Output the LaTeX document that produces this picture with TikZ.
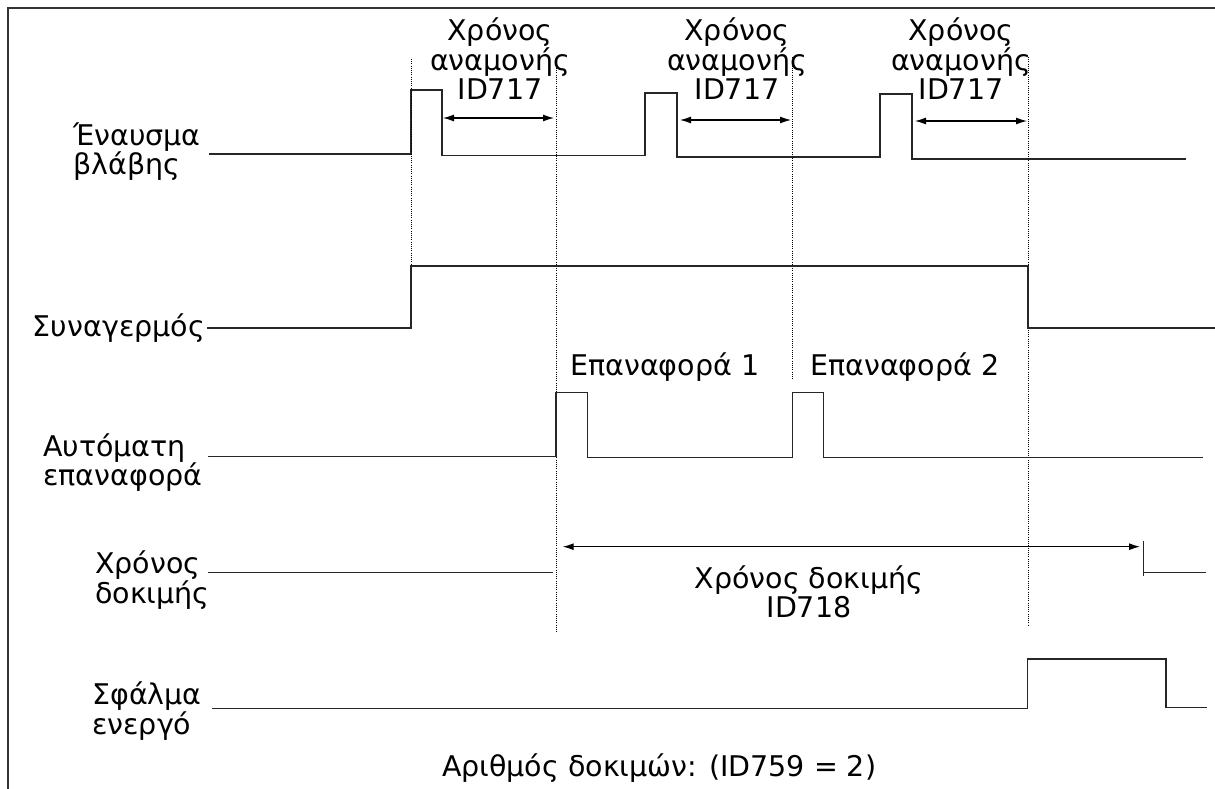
\documentclass[tikz,border=0pt]{standalone}
\usepackage{fontspec}
\setmainfont{DejaVu Sans}
\usetikzlibrary{arrows.meta}

\begin{document}
\begin{tikzpicture}[x=1pt, y=-1pt, >={Latex[length=11pt,width=7pt]},
  font=\fontsize{28.5}{29.5}\selectfont,
  sig/.style={line width=1.4pt, black!85},
  guide/.style={line width=0.9pt, dash pattern=on 1pt off 1.2pt},
  dim/.style={<->, line width=1.2pt},
  lbl/.style={inner sep=0pt, align=left},
  clbl/.style={inner sep=0pt, align=center}]

\useasboundingbox (0,0) rectangle (1215,789);

% frame: only the left and top edges are drawn
\draw[line width=1.6pt, black!80] (8,789) -- (8,8) -- (1215,8);

% =================================================================================
% ROW 1: fault trigger, three short pulses
% (multi-line labels: base anchor sits on the last line)
% =================================================================================
\node[lbl, anchor=base west] (trig) at (73,175) {Έναυσμα\\βλάβης};
\draw[sig] (209,154) -- (411,154) -- (411,90) -- (442,90) -- (442,155.5)
  -- (645,155.5) -- (645,93) -- (677,93) -- (677,157)
  -- (880,157) -- (880,94) -- (912,94) -- (912,159) -- (1186,159);

% wait time after each trigger
\node[clbl, anchor=base] (wt1) at (500,100) {Χρόνος\\αναμονής\\ID717};
\node[clbl, anchor=base] (wt2) at (737,100) {Χρόνος\\αναμονής\\ID717};
\node[clbl, anchor=base] (wt3) at (961,100) {Χρόνος\\αναμονής\\ID717};

\coordinate (w1s) at (443,118);  \coordinate (w1e) at (554,118);
\coordinate (w2s) at (680,120);  \coordinate (w2e) at (791,120);
\coordinate (w3s) at (915,121);  \coordinate (w3e) at (1027,121);
\draw[dim] (w1s) -- (w1e);
\draw[dim] (w2s) -- (w2e);
\draw[dim] (w3s) -- (w3e);

% dotted time marks
\draw[guide] (411,59) -- (411,266);
\draw[guide] (556,57) -- (556,633);
\draw[guide] (792,57) -- (792,380);
\draw[guide] (1028,57) -- (1028,626);

% =================================================================================
% ROW 2: alarm
% =================================================================================
\node[lbl, anchor=base east] (alarm) at (205,336) {Συναγερμός};
\draw[sig] (207,328) -- (411,328) -- (411,266) -- (1028,266) -- (1028,328) -- (1215,328);

% =================================================================================
% ROW 3: automatic reset
% =================================================================================
\node[lbl, anchor=base west] (autors) at (43,485.5) {Αυτόματη\\επαναφορά};
\draw[sig] (208,456.7) -- (556,456.7) -- (556,392.3) -- (587.7,392.3) -- (587.7,457.3)
  -- (792.7,457.3) -- (792.7,392.3) -- (823.3,392.3) -- (823.3,457.3) -- (1203,457.3);
\node[lbl, anchor=base west] (rs1) at (570,375) {Επαναφορά 1};
\node[lbl, anchor=base west] (rs2) at (810,375) {Επαναφορά 2};

% =================================================================================
% ROW 4: trial time
% =================================================================================
\node[lbl, anchor=base west] (trial) at (95,603) {Χρόνος\\δοκιμής};
\draw[sig] (208,572.3) -- (552.7,572.3);
\coordinate (ts) at (562.7,546.7);  \coordinate (te) at (1140,546.7);
\draw[dim] (ts) -- (te);
\node[clbl, anchor=base] (trialtxt) at (809,617.5) {Χρόνος δοκιμής\\ID718};
\draw[sig] (1143.3,541) -- (1143.3,576);
\draw[sig] (1143.3,572.3) -- (1206,572.3);

% =================================================================================
% ROW 5: fault active
% =================================================================================
\node[lbl, anchor=base west] (fault) at (92,734) {Σφάλμα\\ενεργό};
\draw[sig] (211.7,708.3) -- (1027.7,708.3) -- (1027.7,659) -- (1166,659) -- (1166,707.7) -- (1207.3,707.7);

\node[lbl, anchor=base west] (count) at (442,776.7) {Αριθμός δοκιμών: (ID759 = 2)};

\end{tikzpicture}
\end{document}
